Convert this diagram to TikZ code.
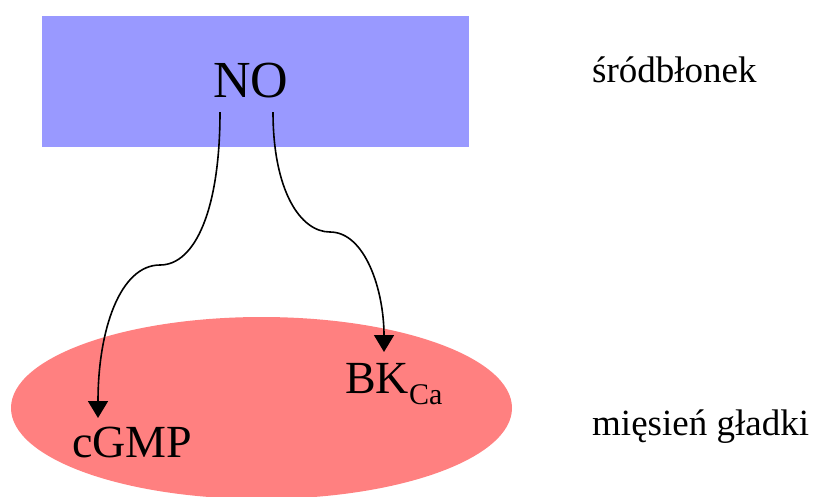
\documentclass[tikz,border=0pt]{standalone}
\usepackage{fontspec}
\setmainfont{Liberation Serif}
\usetikzlibrary{arrows.meta}
\definecolor{bluebox}{HTML}{9999FF}
\definecolor{pinkcell}{HTML}{FF8080}
\begin{document}
\begin{tikzpicture}[x=1pt,y=-1pt,
  lbl/.style={inner sep=0pt,anchor=base west,font=\fontsize{37}{40}\selectfont},
  big/.style={inner sep=0pt,anchor=base west},
  conn/.style={line width=1.6pt,-{Triangle[width=20pt,length=17pt]}}]
\useasboundingbox (0,0) rectangle (813,496);
\fill[bluebox] (42,16) rectangle (469,147);
\fill[pinkcell] (261.5,408) ellipse [x radius=250.5, y radius=91];
\node[big,font=\fontsize{52}{56}\selectfont] (no) at (213,97) {NO};
\node[big,font=\fontsize{46}{50}\selectfont] (cgmp) at (72,457) {cGMP};
\node[big,font=\fontsize{46}{50}\selectfont] (bk) at (345,393) {BK\textsubscript{\fontsize{30}{30}\selectfont Ca}};
\node[lbl] (endo) at (592,82) {śródbłonek};
\node[lbl] (smooth) at (592,435) {mięsień gładki};
\coordinate (noL) at (220,112);
\coordinate (noR) at (273,112);
\coordinate (midL) at (160,265);
\coordinate (midR) at (330,232);
\coordinate (cgmpIn) at (98,418);
\coordinate (bkIn) at (384,352);
\draw[conn] (noL) .. controls (220,210) and (195,265) .. (midL)
  .. controls (120,265) and (98,330) .. (cgmpIn);
\draw[conn] (noR) .. controls (273,190) and (300,232) .. (midR)
  .. controls (365,232) and (384,290) .. (bkIn);
\end{tikzpicture}
\end{document}
